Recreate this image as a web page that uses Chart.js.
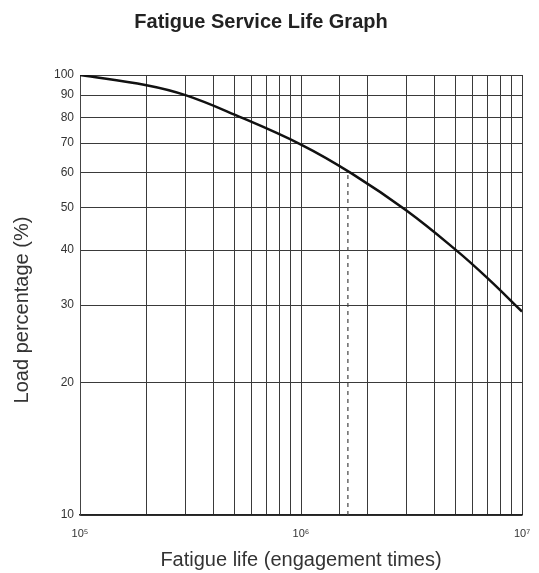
<!DOCTYPE html>
<html>
<head>
<meta charset="utf-8">
<script src="https://cdn.jsdelivr.net/npm/chart.js@4"></script>
<style>
html,body{margin:0;padding:0;background:#fff;}
#wrap{width:539px;height:573px;}
</style>
</head>
<body>
<div id="wrap"><canvas id="fatigueChart" width="539" height="573"></canvas></div>
<script>
// fatigue curve: cycles vs load %
const lifeCycles=[1e5,2e5,3e5,5e5,1e6,1.7e6,3e6,5e6,7e6,1e7];
const loadPct=[100,94.8,90,81.3,69.5,59.7,49.2,40.1,34.5,29];

// dashed marker at 60% load
const markerCycles=[1.63e6,1.63e6];
const markerLoad=[10,60];

const yTicks=[10,20,30,40,50,60,70,80,90,100];
const sup={5:"\u2075",6:"\u2076",7:"\u2077"};

const gridColor="#3a3a3a";
const font="'Liberation Sans', Arial, sans-serif";

// y axis title sits a bit below the middle of the axis
const yTitle={
    id:"yTitle",
    afterDraw(chart){
        const ctx=chart.ctx;
        ctx.save();
        ctx.translate(22,310);
        ctx.rotate(-Math.PI/2);
        ctx.font="20px "+font;
        ctx.fillStyle="#333";
        ctx.textAlign="center";
        ctx.textBaseline="middle";
        ctx.fillText("Load percentage (%)",0,0);
        ctx.restore();
    }
};

new Chart(document.getElementById("fatigueChart"),{
    type:"line",
    data:{datasets:[
        {data:lifeCycles.map((x,i)=>({x:x,y:loadPct[i]})),borderColor:"#111",borderWidth:2.5,
         pointRadius:0,tension:0.4},
        {data:markerCycles.map((x,i)=>({x:x,y:markerLoad[i]})),borderColor:"#444",borderWidth:1.2,
         borderDash:[4,4],pointRadius:0}
    ]},
    options:{
        responsive:false,animation:false,
        layout:{padding:{left:0,right:17,top:0,bottom:0}},
        plugins:{
            legend:{display:false},tooltip:{enabled:false},
            title:{display:true,text:"Fatigue Service Life Graph",color:"#222",
                font:{family:font,size:20,weight:"bold"},padding:{top:10,bottom:41}}
        },
        scales:{
            x:{type:"logarithmic",min:1e5,max:1e7,
                afterFit:s=>{s.height=58;s.paddingLeft=0;s.paddingRight=0},
                grid:{color:gridColor,lineWidth:1,drawTicks:false},
                border:{color:"#222",width:1.5},
                ticks:{color:"#333",padding:12,autoSkip:false,maxRotation:0,font:{family:font,size:11},
                    callback:v=>{const p=Math.log10(v);return Math.abs(p-Math.round(p))<1e-9?"10"+sup[Math.round(p)]:""}},
                title:{display:true,text:"Fatigue life (engagement times)",color:"#333",
                    font:{family:font,size:20},padding:{bottom:1}}
            },
            y:{type:"logarithmic",min:10,max:100,
                afterFit:s=>{s.width=80},
                afterBuildTicks:s=>{s.ticks=yTicks.map(v=>({value:v}))},
                grid:{color:gridColor,lineWidth:1,drawTicks:false},
                border:{color:"#444",width:1},
                ticks:{color:"#333",padding:6,font:{family:font,size:12},callback:v=>String(v)}
            }
        }
    },
    plugins:[yTitle]
});
</script>
</body>
</html>
